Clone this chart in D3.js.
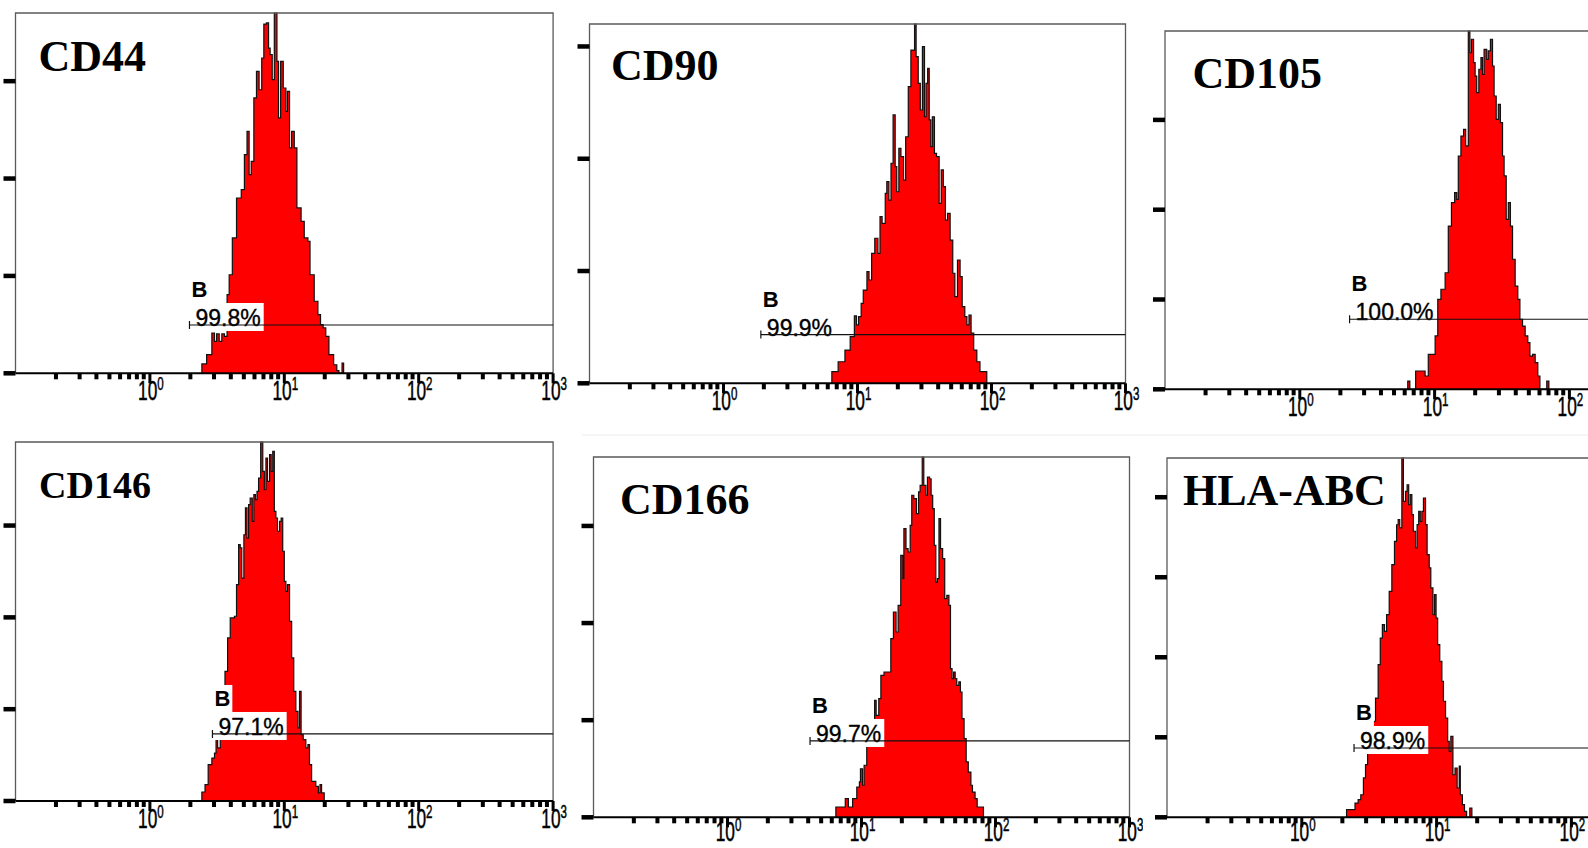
<!DOCTYPE html>
<html>
<head>
<meta charset="utf-8">
<script src="https://cdn.jsdelivr.net/npm/d3@7"></script>
<style>
  body { margin: 0; background: #fff; }
  svg { display: block; }
</style>
</head>
<body>
<svg id="chart" width="1588" height="848"></svg>
<script>
// ---------------- DATA ----------------
const markers = ["CD44", "CD90", "CD105", "CD146", "CD166", "HLA-ABC"];
const gateName = "B";
const gatePercents = ["99.8%", "99.9%", "100.0%", "97.1%", "99.7%", "98.9%"];
// intensity at which marker B starts (it runs to the end of the scale)
const gateStart = [1.97, 1.9, 2.34, 2.92, 4.13, 2.44];
// height (counts) at which the marker bar is drawn
const gateLevel = [24.8, 21.7, 39, 36.5, 39.3, 43.3];
// y-axis (counts) full scale and ticks for each histogram
const yMaxCounts = [185, 160, 199.5, 195.5, 185.5, 224.5];
const yTickValues = [
  [0, 50, 100, 150], [0, 50, 100, 150], [0, 50, 100, 150],
  [0, 50, 100, 150], [0, 50, 100, 150], [0, 50, 100, 150, 200]
];
// log x axis: 10^-1 .. 10^3, labelled decades
const xDomain = [0.1, 1000];
const xMajorExponents = [0, 1, 2, 3];
const xMinorMultipliers = [2, 3, 4, 5, 6, 7, 8, 9];
const channelsPerDecade = 256;   // histogram data stored as [channel, count]

const cd44 = [[355,4.8],[364,9.6],[374,20.7],[379,16.4],[383,20.2],[388,16.4],[393,20.2],[398,19],[403,40.4],[407,50.6],[413,69.5],[421,90],[430,94.3],[436,112.3],[441,124.2],[445,102],[449,108.8],[454,141.4],[459,155],[464,145.6],[469,161.9],[473,179.3],[478,179.9],[482,167],[485,163.6],[489,150.8],[493,185],[498,160.2],[501,131.1],[505,160.2],[510,146.5],[515,134.5],[518,144.8],[522,115.7],[526,124.2],[531,115.7],[536,84.9],[544,78],[550,69.5],[557,67.8],[561,50.6],[569,37],[576,30.1],[581,25],[586,23.3],[591,19],[597,9.6],[606,4.4],[612,1.4],[616,0],[622,5.3],[625,0]];
const cd90 = [[463,5.2],[475,9.6],[488,14.8],[498,20.8],[506,30],[510,26],[514,29.7],[519,35.6],[523,41.5],[530,49.7],[534,46],[539,57.9],[545,64.6],[551,57.9],[555,74.2],[559,71.2],[565,84.6],[568,89.8],[572,81.6],[576,98],[580,119.5],[584,96.5],[587,85.3],[591,104.6],[595,100.9],[600,90.5],[604,109.8],[609,132.1],[614,148.4],[621,160],[624,145.5],[628,133.6],[632,121.7],[636,149.9],[640,118.7],[643,133.6],[646,140.3],[649,117.3],[652,105.4],[655,118.7],[659,102.4],[663,100.9],[668,80.1],[672,95],[676,87.6],[680,72.7],[684,75.7],[689,63.8],[694,49],[698,38.6],[703,54.9],[708,47.5],[712,34.1],[717,29.7],[721,26],[725,30.4],[729,22.3],[734,14.8],[740,9.6],[746,5.2],[759,0]];
const cd105 = [[461,4.6],[465,0],[476,10.2],[494,7.4],[500,19.5],[513,29.7],[518,50.1],[524,55.7],[532,64.9],[538,90.9],[544,103.9],[550,109.5],[554,105.8],[557,129.9],[562,141],[567,144.7],[571,135.5],[576,199.5],[579,187.4],[582,194.9],[586,181.9],[589,174.4],[592,165.2],[596,178.2],[600,184.7],[603,175.4],[606,189.3],[611,183.7],[614,188.4],[618,194.9],[622,180],[625,163.3],[629,150.3],[633,158.7],[637,148.5],[641,129.9],[644,118.8],[648,94.6],[652,103.9],[656,90.9],[660,72.4],[665,57.5],[670,50.1],[674,39],[679,35.2],[684,29.7],[689,26],[693,18.5],[698,19.5],[703,14.8],[708,7.4],[712,0],[725,4.6],[729,0]];
const cd146 = [[355,4.9],[361,8.9],[367,19.8],[374,23.4],[379,26.1],[382,36.5],[385,28.9],[390,37.9],[394,56.1],[399,70.6],[404,88.8],[409,99.7],[417,100.6],[421,117.8],[425,139.6],[428,137.8],[431,121.4],[435,145],[438,159.6],[441,143.2],[444,161.4],[447,165],[451,152.3],[454,166.8],[457,164.1],[460,168.6],[463,175.9],[467,195.5],[471,179.5],[474,169.5],[477,186.8],[480,174.1],[484,188.6],[487,179.5],[490,190.4],[493,157.7],[496,154.1],[499,146.9],[503,152.3],[506,154.1],[509,136],[512,119.6],[515,114.2],[518,117.8],[522,97.8],[526,77.9],[530,59.7],[534,48.8],[538,39.8],[541,59.7],[544,36.1],[548,33.4],[553,28.9],[557,30.7],[560,19.8],[564,10.7],[572,8],[577,4.4],[580,8.9],[583,4.4],[588,0]];
const cd166 = [[463,5.3],[481,9.6],[487,5.3],[495,9.6],[503,15.6],[508,18.2],[510,25],[514,16.5],[517,26.8],[522,37.1],[528,49.1],[537,60.2],[540,52.5],[545,61.1],[549,73.1],[555,74.8],[568,92],[573,105.7],[578,95.4],[582,109.1],[587,134.9],[591,122.9],[593,148.6],[597,138.3],[601,136.6],[605,150.3],[608,165.8],[612,164.1],[617,156.3],[621,167.5],[624,170.9],[628,185.5],[631,170.9],[635,165.8],[638,175.2],[642,174.3],[645,165.8],[648,158.9],[651,140],[654,121.1],[657,122.9],[660,153.8],[663,138.3],[667,133.2],[671,112.6],[675,114.3],[679,109.1],[682,76.5],[685,71.4],[688,74.8],[691,71.4],[694,67.9],[698,69.7],[701,64.5],[704,50.8],[708,40.5],[712,28.5],[716,23.3],[721,16.5],[724,13],[729,9.6],[733,5.3],[745,0]];
const hlaAbc = [[341,4.8],[357,8.9],[363,11],[368,14.1],[373,24.6],[377,32.9],[381,41.2],[385,49.6],[390,60],[396,74.5],[401,95.4],[405,112],[409,120.4],[413,116.2],[417,126.6],[422,141.2],[427,157.9],[432,172.4],[436,182.8],[439,186],[442,180.8],[446,224.5],[449,197.4],[453,203.7],[456,207.8],[459,195.3],[462,201.6],[465,189.1],[468,178.7],[472,168.3],[475,182.9],[478,191.2],[481,184.9],[484,191.2],[487,199.5],[491,182.9],[494,164.1],[498,155.8],[501,143.3],[505,126.6],[508,139.1],[511,124.5],[514,107.9],[518,97.5],[522,85],[525,72.5],[529,62],[533,47.5],[536,41.2],[539,50.6],[543,26.6],[547,30.8],[551,18.3],[555,32],[557,14.1],[561,7.9],[565,3.7],[569,0],[575,5.8],[579,0]];
const histograms = [cd44, cd90, cd105, cd146, cd166, hlaAbc];

// ---------------- LAYOUT ----------------
const W = 1588, H = 848;
const layout = [
  { L: 15.5,  T: 13,  dec: 134.4, B: 373.3, tx: 38.5, ty: 71,  fs: 44 },
  { L: 589.5, T: 24,  dec: 134.0, B: 383.3, tx: 611,  ty: 80,  fs: 44 },
  { L: 1165,  T: 31,  dec: 134.8, B: 389.3, tx: 1192.5, ty: 88, fs: 44 },
  { L: 15.5,  T: 442, dec: 134.4, B: 801,   tx: 39,   ty: 498, fs: 38 },
  { L: 593.5, T: 457, dec: 134.0, B: 817.3, tx: 620,  ty: 514, fs: 44 },
  { L: 1167,  T: 458, dec: 134.8, B: 817.3, tx: 1183, ty: 505, fs: 44 }
];

const svg = d3.select("#chart");
svg.append("rect").attr("width", W).attr("height", H).attr("fill", "#fff");
// faint seam of the pasted lower-right images
svg.append("line").attr("x1", 582).attr("x2", W).attr("y1", 435).attr("y2", 435)
  .attr("stroke", "#ececec").attr("stroke-width", 1);

const toIntensity = ch => xDomain[0] * Math.pow(10, ch / channelsPerDecade);
const sans = "Liberation Sans, Arial, sans-serif";

layout.forEach((p, i) => {
  const g = svg.append("g");
  if (i === 5) {
    g.append("rect").attr("x", 1143).attr("y", 436).attr("width", W - 1143).attr("height", H - 436).attr("fill", "#fff");
  }
  const R = p.L + 4 * p.dec;
  const x = d3.scaleLog().domain(xDomain).range([p.L, R]);
  const y = d3.scaleLinear().domain([0, yMaxCounts[i]]).range([p.B, p.T]);
  const data = histograms[i];

  // histogram fill
  const area = d3.area().curve(d3.curveStepAfter)
    .x(d => x(toIntensity(d[0]))).y0(p.B).y1(d => y(d[1]));
  g.append("path").datum(data).attr("d", area).attr("fill", "#ff0000");
  // outline
  const line = d3.line().curve(d3.curveStepAfter)
    .x(d => x(toIntensity(d[0]))).y(d => y(d[1]));
  g.append("path").datum([[data[0][0], 0]].concat(data)).attr("d", line)
    .attr("fill", "none").attr("stroke", "#111").attr("stroke-width", 1.2);

  // frame
  g.append("path")
    .attr("d", `M${p.L},${p.B}V${p.T}H${R}V${p.B}`)
    .attr("fill", "none").attr("stroke", "#5a5a5a").attr("stroke-width", 1.3);
  // x axis line
  g.append("line").attr("x1", p.L).attr("x2", R).attr("y1", p.B).attr("y2", p.B)
    .attr("stroke", "#000").attr("stroke-width", 2);

  // minor x ticks
  const minors = [];
  for (let e = -1; e <= 2; e++) xMinorMultipliers.forEach(m => minors.push(m * Math.pow(10, e)));
  g.selectAll(".mt").data(minors).enter().append("rect")
    .attr("x", d => x(d) - 2).attr("y", p.B).attr("width", 4).attr("height", 6).attr("fill", "#000");
  // major x ticks + labels (only those that fall inside the picture)
  const majors = xMajorExponents.map(e => Math.pow(10, e));
  g.selectAll(".Mt").data(majors).enter().append("rect")
    .attr("x", d => x(d) - 1.5).attr("y", p.B).attr("width", 3).attr("height", 10).attr("fill", "#000");
  const labelY = Math.min(p.B + 27, H - 7);
  xMajorExponents.forEach(e => {
    const v = Math.pow(10, e);
    if (x(v) > W - 12) return;
    const t = g.append("text")
      .attr("transform", `translate(${x(v) + 1},${labelY}) scale(0.64,1)`)
      .attr("text-anchor", "middle")
      .attr("font-family", sans)
      .attr("fill", "#000").attr("stroke", "#000").attr("stroke-width", 0.5);
    t.append("tspan").attr("font-size", 27).text("10");
    t.append("tspan").attr("font-size", 18).attr("dy", -10).text(String(e));
  });

  // y ticks
  g.selectAll(".yt").data(yTickValues[i]).enter().append("rect")
    .attr("x", p.L - 12).attr("y", d => y(d) - 2.25).attr("width", 12).attr("height", 4.5).attr("fill", "#000");

  // gate marker
  const gx = x(gateStart[i]);
  const gy = y(gateLevel[i]);
  const lbl = g.append("g");
  const bRect = lbl.append("rect").attr("fill", "#fff");
  const bText = lbl.append("text").attr("x", gx + 2).attr("y", gy - 28)
    .attr("font-family", sans).attr("font-weight", "bold")
    .attr("font-size", 22).attr("fill", "#000").text(gateName);
  const pRect = lbl.append("rect").attr("fill", "#fff");
  const pText = lbl.append("text").attr("x", gx + 6).attr("y", gy + 1)
    .attr("font-family", sans)
    .attr("font-size", 23).attr("fill", "#000").attr("stroke", "#000").attr("stroke-width", 0.35)
    .text(gatePercents[i]);
  const bb = bText.node().getBBox();
  bRect.attr("x", gx).attr("y", gy - 49).attr("width", bb.x + bb.width + 2 - gx).attr("height", 27);
  const pb = pText.node().getBBox();
  pRect.attr("x", gx).attr("y", gy - 22).attr("width", pb.x + pb.width + 3 - gx).attr("height", 28);
  g.append("line").attr("x1", gx).attr("x2", R).attr("y1", gy).attr("y2", gy)
    .attr("stroke", "#111").attr("stroke-width", 1.2);
  g.append("line").attr("x1", gx).attr("x2", gx).attr("y1", gy - 4).attr("y2", gy + 4)
    .attr("stroke", "#111").attr("stroke-width", 1.2);

  // title
  g.append("text").attr("x", p.tx).attr("y", p.ty)
    .attr("font-family", "Liberation Serif, 'Times New Roman', serif")
    .attr("font-weight", "bold").attr("font-size", p.fs).attr("fill", "#000")
    .text(markers[i]);
});
</script>
</body>
</html>
